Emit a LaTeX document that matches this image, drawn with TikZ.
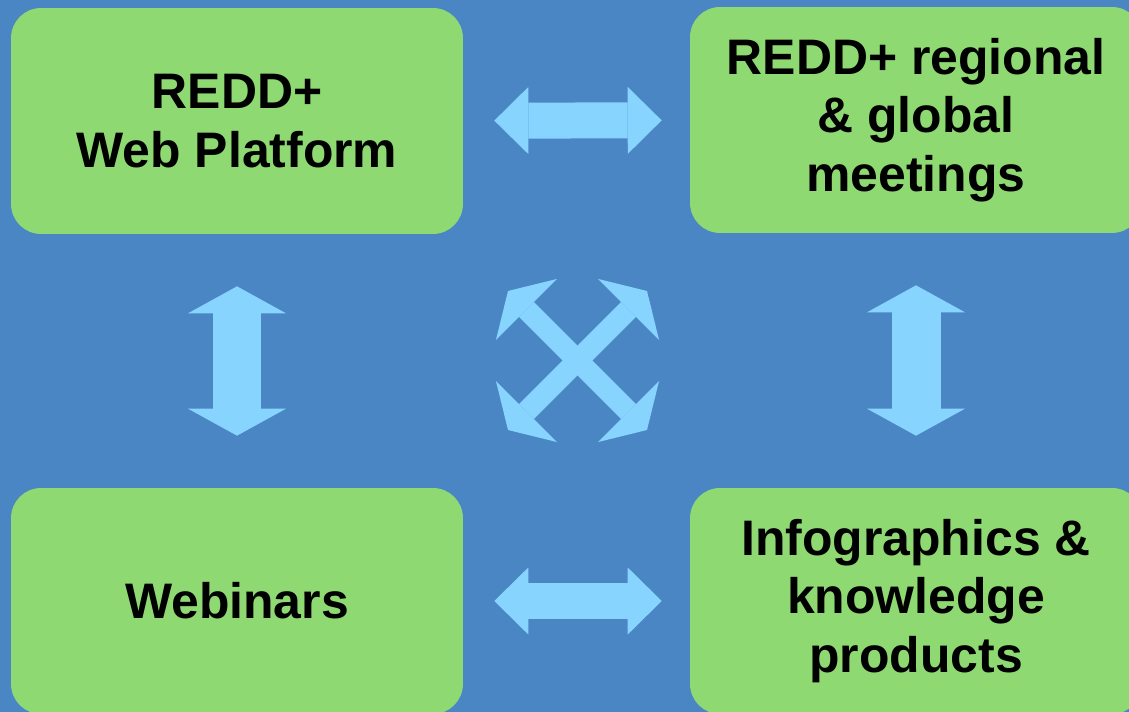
\documentclass[tikz,border=0pt]{standalone}
\usepackage{fontspec}
\setmainfont{Liberation Sans}
\usetikzlibrary{arrows.meta}

\definecolor{bgblue}{RGB}{74,134,196}
\definecolor{boxgreen}{RGB}{143,217,114}
\definecolor{linkblue}{RGB}{135,212,255}

\tikzset{
  topic/.style={fill=boxgreen, rounded corners=0.6cm, minimum width=9.04cm,
    minimum height=4.52cm, align=center, inner sep=0pt,
    font=\fontsize{28.4}{33.2}\selectfont\bfseries},
  hlink/.style={draw=linkblue, line width=0.72cm,
    {Triangle[length=0.68cm,width=1.34cm,line width=0pt]}-{Triangle[length=0.68cm,width=1.34cm,line width=0pt]},
    shorten <=0.62cm, shorten >=0.56cm},
  vlink/.style={draw=linkblue, line width=0.98cm,
    {Triangle[length=0.54cm,width=1.96cm,line width=0pt]}-{Triangle[length=0.54cm,width=1.96cm,line width=0pt]},
    shorten <=1.04cm, shorten >=1.04cm},
  xlink/.style={draw=linkblue, line width=0.42cm,
    {Triangle[length=0.52cm,width=1.72cm,line width=0pt]}-{Triangle[length=0.52cm,width=1.72cm,line width=0pt]}}
}

\begin{document}
\begin{tikzpicture}[x=0.02cm, y=-0.02cm]
  \useasboundingbox (0,0) rectangle (1129,712);
  \clip (0,0) rectangle (1129,712);
  \fill[bgblue] (0,0) rectangle (1129,712);

  % the four boxes
  \node[topic] (web)   at (237,121) {REDD+\\Web Platform};
  \node[topic] (meet)  at (916,120) {REDD+ regional\\\& global\\meetings};
  \node[topic] (webin) at (237,601) {Webinars};
  \node[topic] (info)  at (916,601) {Infographics \&\\knowledge\\products};

  % links between them
  \draw[hlink] (web) -- (meet);
  \draw[hlink] (webin) -- (info);
  \draw[vlink] (web) -- (webin);
  \draw[vlink] (meet) -- (info);

  % the cross in the middle
  \coordinate (nw) at (508,291);
  \coordinate (ne) at (647,291);
  \coordinate (sw) at (508,430);
  \coordinate (se) at (647,430);
  \draw[xlink] (nw) -- (se);
  \draw[xlink] (ne) -- (sw);
\end{tikzpicture}
\end{document}
